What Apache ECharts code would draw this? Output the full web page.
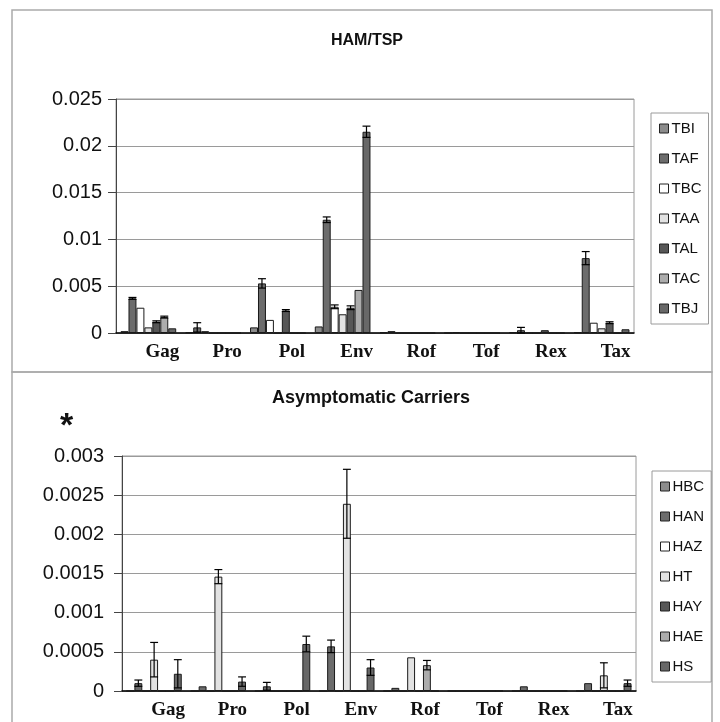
<!DOCTYPE html>
<html>
<head>
<meta charset="utf-8">
<title>HAM/TSP vs Asymptomatic Carriers</title>
<script src="https://cdn.jsdelivr.net/npm/echarts@6/dist/echarts.min.js"></script>
<style>
  html, body { margin: 0; padding: 0; background: #fff; }
  #main { width: 720px; height: 722px; }
</style>
</head>
<body>
<div id="main"></div>
<script>
// genes on the x axis
var categories = ['Gag', 'Pro', 'Pol', 'Env', 'Rof', 'Tof', 'Rex', 'Tax'];

// HAM/TSP patients
var topNames = ['TBI', 'TAF', 'TBC', 'TAA', 'TAL', 'TAC', 'TBJ'];
var TBI = [0.0002, 0.0001, 0.0006, 0.0007, 0.0001, 0, 0.0001, 0.0001];
var TAF = [0.0037, 0.0006, 0.0053, 0.0121, 0.0002, 0.0001, 0.0003, 0.0080];
var TBC = [0.0027, 0.0002, 0.0014, 0.0028, 0, 0, 0, 0.0011];
var TAA = [0.0006, 0, 0, 0.0020, 0, 0, 0, 0.0005];
var TAL = [0.0012, 0, 0.0024, 0.0027, 0, 0, 0.0003, 0.0011];
var TAC = [0.0017, 0, 0, 0.0046, 0, 0, 0, 0];
var TBJ = [0.0005, 0, 0, 0.0215, 0, 0, 0, 0.0004];
// error bars (+/-)
var TBI_err = [0, 0, 0, 0, 0, 0, 0, 0];
var TAF_err = [0.0001, 0.0005, 0.0005, 0.0003, 0, 0, 0.0003, 0.0007];
var TBC_err = [0, 0, 0, 0.0002, 0, 0, 0, 0];
var TAA_err = [0, 0, 0, 0, 0, 0, 0, 0];
var TAL_err = [0.0001, 0, 0.0001, 0.0002, 0, 0, 0, 0.0001];
var TAC_err = [0.0001, 0, 0, 0, 0, 0, 0, 0];
var TBJ_err = [0, 0, 0, 0.0006, 0, 0, 0, 0];

// asymptomatic carriers
var botNames = ['HBC', 'HAN', 'HAZ', 'HT', 'HAY', 'HAE', 'HS'];
var HBC = [0, 0, 0, 0, 0, 0, 0, 0];
var HAN = [0.0001, 0.00006, 0.00006, 0.00057, 0.00004, 0, 0.00006, 0.0001];
var HAZ = [0, 0, 0, 0, 0, 0, 0, 0];
var HT = [0.0004, 0.00146, 0, 0.00239, 0.00043, 0, 0, 0.0002];
var HAY = [0, 0, 0, 0, 0, 0, 0, 0];
var HAE = [0, 0, 0, 0, 0.00033, 0, 0, 0];
var HS = [0.00022, 0.00012, 0.0006, 0.0003, 0, 0, 0, 0.0001];
var HBC_err = [0, 0, 0, 0, 0, 0, 0, 0];
var HAN_err = [0.00004, 0, 0.00005, 0.00008, 0, 0, 0, 0];
var HAZ_err = [0, 0, 0, 0, 0, 0, 0, 0];
var HT_err = [0.00022, 0.00009, 0, 0.00044, 0, 0, 0, 0.00016];
var HAY_err = [0, 0, 0, 0, 0, 0, 0, 0];
var HAE_err = [0, 0, 0, 0, 0.00006, 0, 0, 0];
var HS_err = [0.00018, 0.00006, 0.0001, 0.0001, 0, 0, 0, 0.00004];

var topValues = [TBI, TAF, TBC, TAA, TAL, TAC, TBJ];
var topErrors = [TBI_err, TAF_err, TBC_err, TAA_err, TAL_err, TAC_err, TBJ_err];
var botValues = [HBC, HAN, HAZ, HT, HAY, HAE, HS];
var botErrors = [HBC_err, HAN_err, HAZ_err, HT_err, HAY_err, HAE_err, HS_err];

// grey fills, same order in both panels
var fills = ['#8c8c8c', '#6c6c6c', '#ffffff', '#e2e2e2', '#575757', '#acacac', '#686868'];
var GAP = 0.14;

function errorData(values, errors) {
    var out = [];
    for (var s = 0; s < values.length; s++) {
        for (var c = 0; c < categories.length; c++) {
            if (errors[s][c] > 0) out.push([c, s, values[s][c], errors[s][c]]);
        }
    }
    return out;
}

function renderError(params, api) {
    var cat = api.value(0), k = api.value(1), v = api.value(2), e = api.value(3);
    var band = api.size([1, 0])[0];
    var groupW = band * (1 - GAP);
    var barW = groupW / 7;
    var cx = api.coord([cat, 0])[0] - groupW / 2 + (k + 0.5) * barW;
    var yTop = api.coord([cat, v + e])[1];
    var yBot = api.coord([cat, Math.max(v - e, 0)])[1];
    var cap = barW / 2;
    var st = { stroke: '#000', lineWidth: 1.2 };
    return {
        type: 'group',
        children: [
            { type: 'line', shape: { x1: cx, y1: yTop, x2: cx, y2: yBot }, style: st },
            { type: 'line', shape: { x1: cx - cap, y1: yTop, x2: cx + cap, y2: yTop }, style: st },
            { type: 'line', shape: { x1: cx - cap, y1: yBot, x2: cx + cap, y2: yBot }, style: st }
        ]
    };
}

var series = [];
topNames.forEach(function (n, i) {
    series.push({
        name: n, type: 'bar', xAxisIndex: 0, yAxisIndex: 0,
        data: topValues[i], barGap: '0%', barCategoryGap: (GAP * 100) + '%',
        itemStyle: { color: fills[i], borderColor: '#1a1a1a', borderWidth: 1 }
    });
});
botNames.forEach(function (n, i) {
    series.push({
        name: n, type: 'bar', xAxisIndex: 1, yAxisIndex: 1,
        data: botValues[i], barGap: '0%', barCategoryGap: (GAP * 100) + '%',
        itemStyle: { color: fills[i], borderColor: '#1a1a1a', borderWidth: 1 }
    });
});
series.push({ type: 'custom', xAxisIndex: 0, yAxisIndex: 0, renderItem: renderError,
    data: errorData(topValues, topErrors), z: 5, silent: true });
series.push({ type: 'custom', xAxisIndex: 1, yAxisIndex: 1, renderItem: renderError,
    data: errorData(botValues, botErrors), z: 5, silent: true });

function xAxisFor(gi) {
    return {
        type: 'category', gridIndex: gi, data: categories,
        axisTick: { show: false },
        axisLine: { lineStyle: { color: '#000', width: 1.5 } },
        axisLabel: {
            interval: 0, margin: 10, padding: [0, 0, 0, 28],
            fontFamily: 'Liberation Serif', fontWeight: 'bold', fontSize: 19, color: '#111'
        }
    };
}
function yAxisFor(gi, max, step, margin) {
    return {
        type: 'value', gridIndex: gi, min: 0, max: max, interval: step,
        axisLine: { show: true, lineStyle: { color: '#444' } },
        axisTick: { show: true, inside: false, length: 8, lineStyle: { color: '#444' } },
        splitLine: { lineStyle: { color: '#9a9a9a', width: 1 } },
        axisLabel: { margin: margin, fontFamily: 'Liberation Sans', fontSize: 20, color: '#111' }
    };
}

var legendBase = {
    orient: 'vertical', icon: 'rect', itemWidth: 9, itemHeight: 9, itemGap: 15,
    borderColor: '#9a9a9a', borderWidth: 1, padding: [8, 7, 8, 8],
    textStyle: { fontFamily: 'Liberation Sans', fontSize: 15, color: '#111', padding: [0, 0, 0, -2] },
    itemStyle: { borderColor: '#222', borderWidth: 1 },
    selectedMode: false
};

var chart = echarts.init(document.getElementById('main'));
var option = {
    backgroundColor: '#fff',
    animation: false,
    title: [
        { text: 'HAM/TSP', left: 362, top: 28, textAlign: 'center',
          textStyle: { fontFamily: 'Liberation Sans', fontWeight: 'bold', fontSize: 16, color: '#111' } },
        { text: 'Asymptomatic Carriers', left: 366, top: 384, textAlign: 'center',
          textStyle: { fontFamily: 'Liberation Sans', fontWeight: 'bold', fontSize: 18, color: '#111' } },
        { text: '*', left: 55, top: 405,
          textStyle: { fontFamily: 'Liberation Sans', fontWeight: 'bold', fontSize: 34, color: '#111' } }
    ],
    legend: [
        Object.assign({}, legendBase, { data: topNames, left: 651, top: 113 }),
        Object.assign({}, legendBase, { data: botNames, left: 652, top: 471 })
    ],
    graphic: [
        { type: 'rect', shape: { x: 12, y: 10, width: 700, height: 362 },
          style: { fill: null, stroke: '#aaa', lineWidth: 1.5 }, silent: true },
        { type: 'rect', shape: { x: 12, y: 372, width: 700, height: 360 },
          style: { fill: null, stroke: '#aaa', lineWidth: 1.5 }, silent: true }
    ],
    grid: [
        { left: 116, right: 86, top: 99, height: 234, show: true, borderColor: '#9a9a9a', borderWidth: 1 },
        { left: 122, right: 84, top: 456, height: 235, show: true, borderColor: '#9a9a9a', borderWidth: 1 }
    ],
    xAxis: [xAxisFor(0), xAxisFor(1)],
    yAxis: [yAxisFor(0, 0.025, 0.005, 14), yAxisFor(1, 0.003, 0.0005, 18)],
    series: series
};
chart.setOption(option);
</script>
</body>
</html>
